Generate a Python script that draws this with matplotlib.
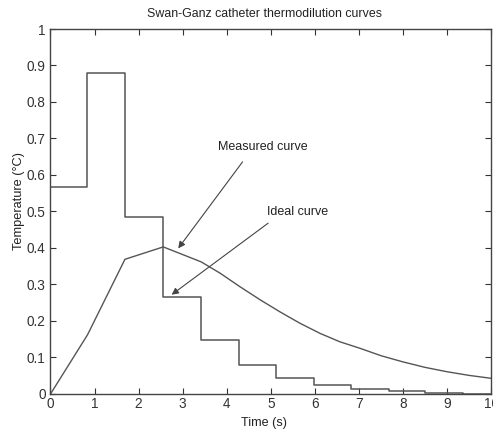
import matplotlib
matplotlib.use("Agg")
import matplotlib.pyplot as plt
import numpy as np

plt.rcParams['font.family'] = ['Liberation Sans', 'DejaVu Sans']

# Step ("Ideal curve" arrow) data
step_edges = [0, 0.84, 1.69, 2.56, 3.42, 4.27, 5.12, 5.99, 6.83, 7.68, 8.51, 9.37, 10.0]
step_vals = [0.566, 0.880, 0.484, 0.265, 0.147, 0.079, 0.045, 0.025, 0.013, 0.007, 0.004, 0.001]

# Smooth curve data
curve_t = [0, 0.84, 1.69, 2.56, 3.42, 3.85, 4.30, 4.76, 5.21, 5.66, 6.12, 6.57,
           7.03, 7.5, 8.0, 8.5, 9.0, 9.5, 10.0]
curve_T = [0, 0.162, 0.369, 0.403, 0.362, 0.331, 0.294, 0.258, 0.225, 0.194, 0.166,
           0.143, 0.125, 0.105, 0.088, 0.073, 0.061, 0.051, 0.043]

xticks = list(range(0, 11))
yticks = [0, 0.1, 0.2, 0.3, 0.4, 0.5, 0.6, 0.7, 0.8, 0.9, 1]
ytick_labels = ['0', '0.1', '0.2', '0.3', '0.4', '0.5', '0.6', '0.7', '0.8', '0.9', '1']

fig = plt.figure(figsize=(4.93, 4.29), dpi=100)
ax = fig.add_axes([0.1024, 0.0816, 0.8936, 0.8508])

line_col = '#555555'
ax.step(step_edges, step_vals + [step_vals[-1]], where='post', color=line_col, lw=1.1)
ax.plot(curve_t, curve_T, color=line_col, lw=1.0)

ax.set_xlim(0, 10)
ax.set_ylim(0, 1)
ax.set_xticks(xticks)
ax.set_yticks(yticks)
ax.set_yticklabels(ytick_labels)
ax.tick_params(direction='in', top=True, right=True, length=4, width=0.8,
               labelsize=9.8, colors='#333333')
ax.tick_params(axis='y', pad=3.5)
ax.tick_params(axis='x', pad=2)
for s in ax.spines.values():
    s.set_color('#444444')
    s.set_linewidth(1.0)

ax.set_title('Swan-Ganz catheter thermodilution curves', fontsize=8.9, color='#222222',
             x=0.485, pad=9)
ax.set_xlabel('Time (s)', fontsize=9.1, color='#222222')
ax.xaxis.set_label_coords(0.484, -0.062)
ax.set_ylabel('Temperature (°C)', fontsize=9.2, color='#222222')
ax.yaxis.set_label_coords(-0.058, 0.53)

arrow_kw = dict(arrowstyle='-|>', color='#444444', lw=0.8, mutation_scale=10, shrinkA=0, shrinkB=0)
ax.annotate('', xy=(2.90, 0.399), xytext=(4.36, 0.636), arrowprops=arrow_kw)
ax.text(4.81, 0.677, 'Measured curve', fontsize=9, ha='center', va='center', color='#222222')
ax.annotate('', xy=(2.75, 0.272), xytext=(4.94, 0.468), arrowprops=arrow_kw)
ax.text(5.61, 0.499, 'Ideal curve', fontsize=9, ha='center', va='center', color='#222222')

fig.savefig('out.png', dpi=100)
